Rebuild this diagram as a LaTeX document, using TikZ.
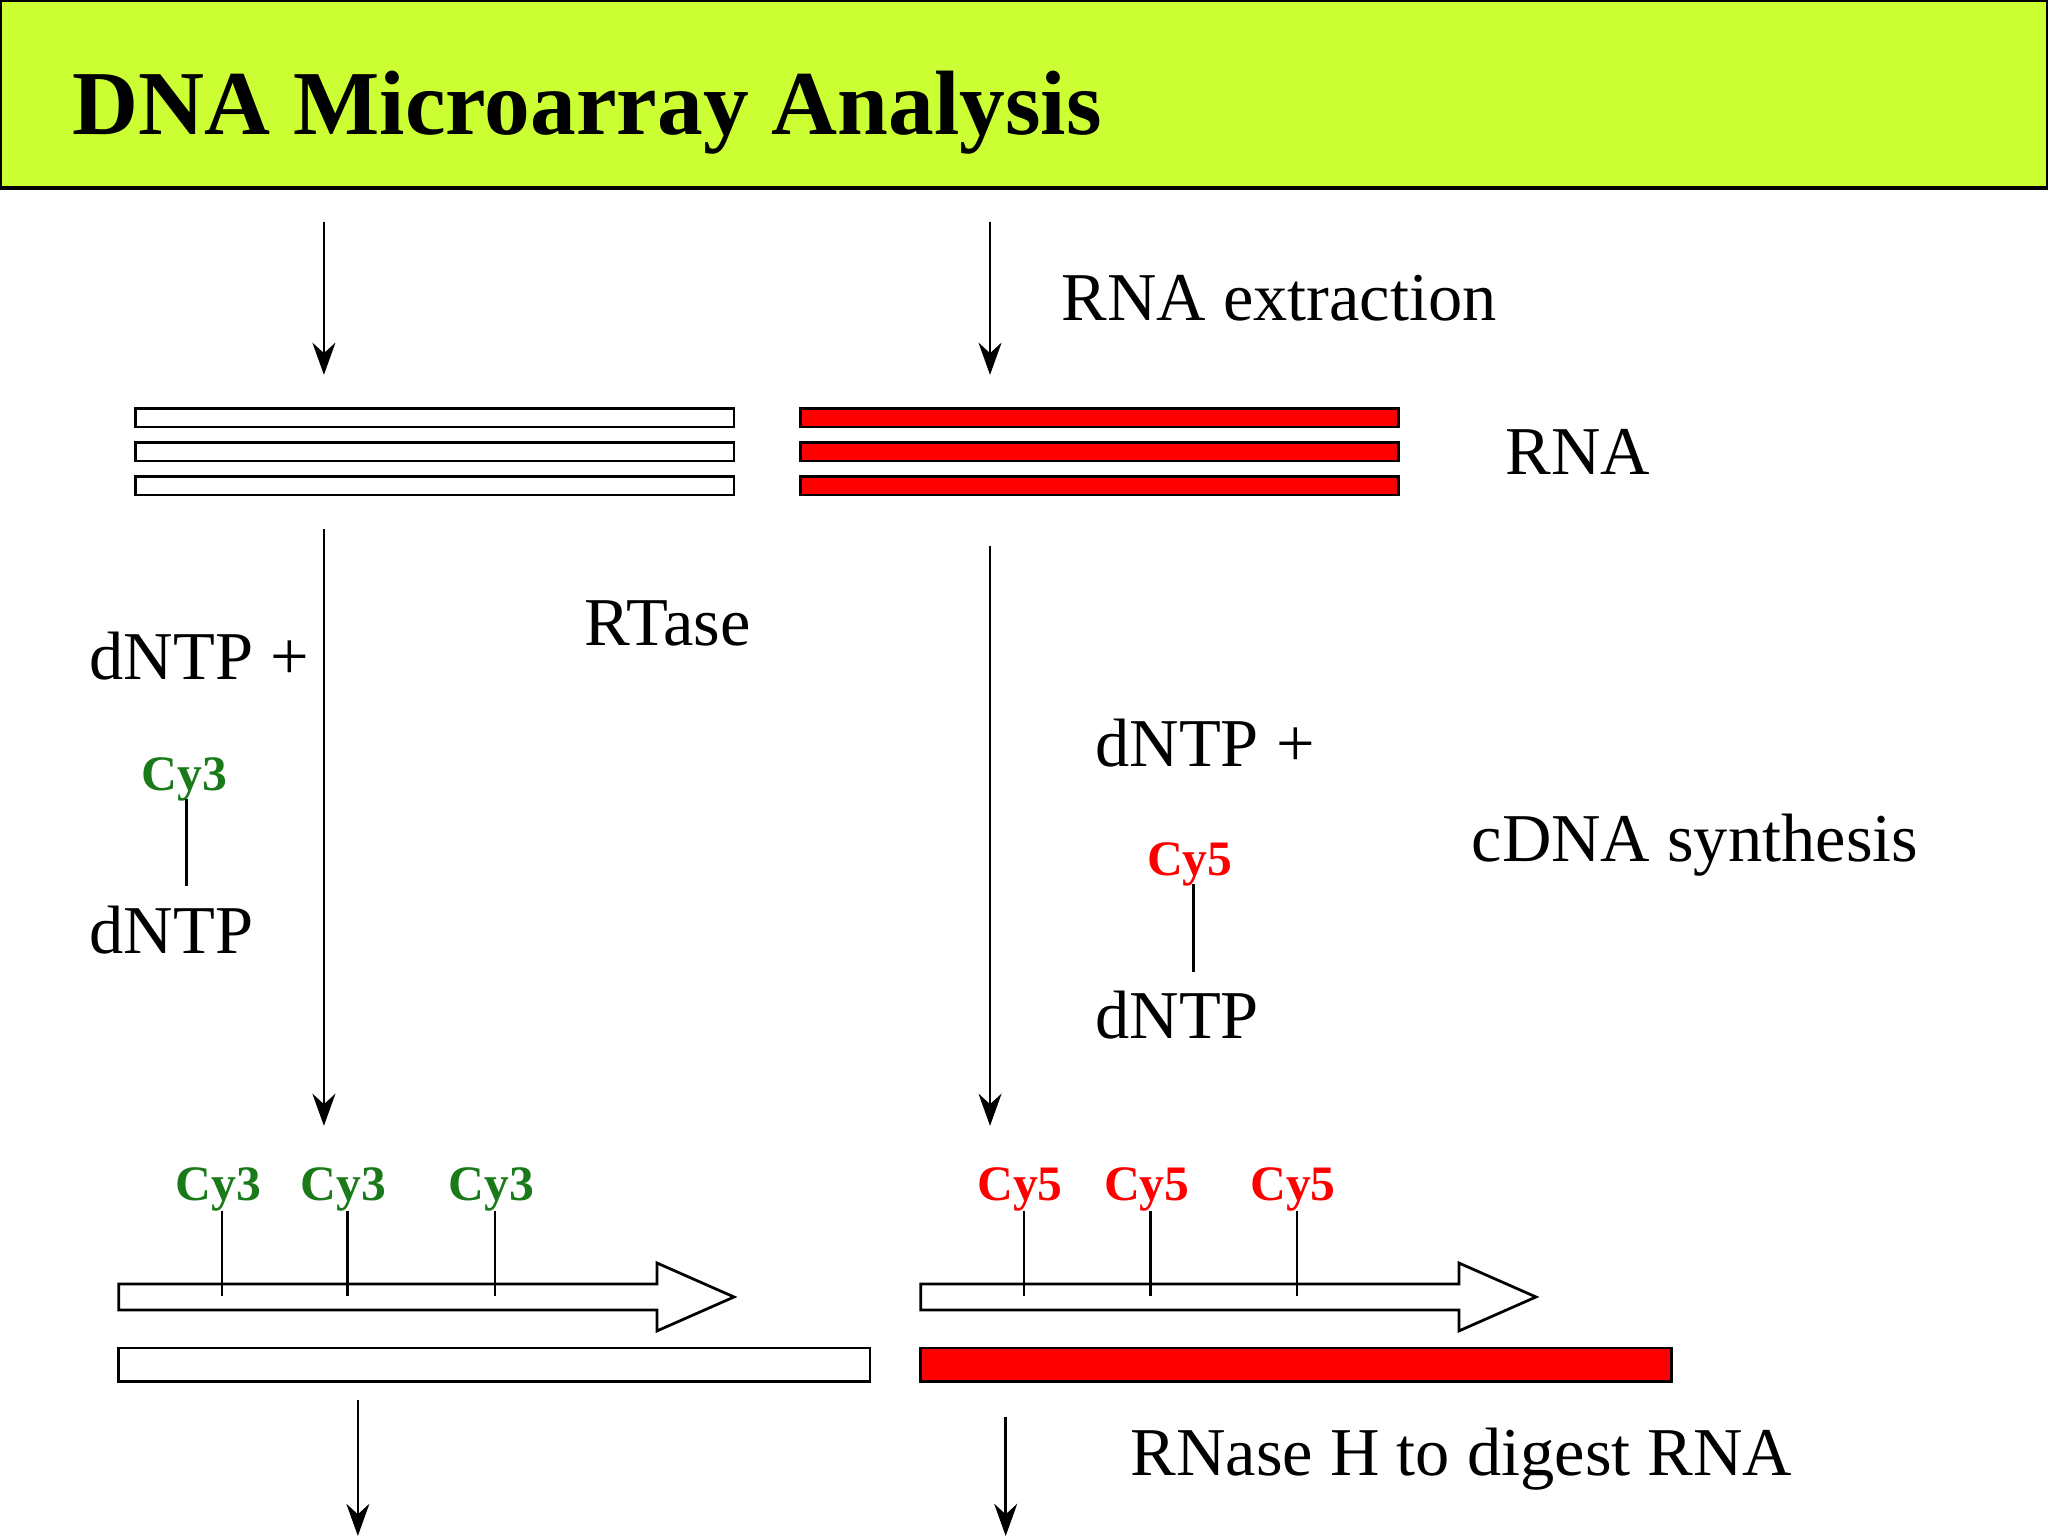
\documentclass[tikz,border=0pt]{standalone}
\usepackage{fontspec}
\setmainfont{Liberation Serif}
\usetikzlibrary{arrows.meta}
\definecolor{lime}{HTML}{CCFF33}
\definecolor{cygreen}{HTML}{1A7A1A}
\begin{document}
\begin{tikzpicture}[x=0.01cm,y=-0.01cm,
  txt/.style={font=\fontsize{14.9pt}{17pt}\selectfont,anchor=west,inner sep=0},
  cy3/.style={font=\bfseries\fontsize{10.8pt}{13pt}\selectfont,text=cygreen,inner sep=0},
  cy5/.style={font=\bfseries\fontsize{10.8pt}{13pt}\selectfont,text=red,inner sep=0},
  arr/.style={-{Stealth[length=7pt,width=5pt]},line width=0.6pt},
  bar/.style={draw=black,line width=0.6pt},
  ln/.style={line width=0.6pt}]
\useasboundingbox (0,0) rectangle (1568,1176);
\draw[fill=lime,line width=0.8pt] (0,0) rectangle (1568,144);
\node[anchor=base west,inner sep=0,font=\bfseries\fontsize{19.9pt}{23pt}\selectfont] (title) at (55,103) {DNA Microarray Analysis};
% top arrows
\coordinate (a1) at (248,170); \coordinate (a1e) at (248,287);
\coordinate (a2) at (758,170); \coordinate (a2e) at (758,287);
\draw[arr] (a1) -- (a1e); \draw[arr] (a2) -- (a2e);
\node[txt] (ext) at (812,228) {RNA extraction};
% RNA bars
\foreach \y in {313,339,365}{
  \draw[bar,fill=white] (104,\y) rectangle (562,\y+14);
  \draw[bar,fill=red] (613,\y) rectangle (1071,\y+14);
}
\node[txt] (rna) at (1152,346) {RNA};
% middle arrows
\coordinate (b1) at (248,405); \coordinate (b1e) at (248,862);
\coordinate (b2) at (758,418); \coordinate (b2e) at (758,862);
\draw[arr] (b1) -- (b1e); \draw[arr] (b2) -- (b2e);
\node[txt] (rt) at (447,477) {RTase};
\node[txt] (d1) at (68,502) {dNTP +};
\node[cy3] (c3) at (141,597) {Cy3};
\draw[ln] (143,612) -- (143,678);
\node[txt] (d2) at (68,712) {dNTP};
\node[txt] (d3) at (838,569) {dNTP +};
\node[cy5] (c5) at (911,662) {Cy5};
\draw[ln] (914,677) -- (914,744);
\node[txt] (d4) at (838,777) {dNTP};
\node[txt] (cs) at (1126,647) {cDNA synthesis};
% bottom left
\draw[bar,fill=white] (91,983) -- (503,983) -- (503,967) -- (562,993) -- (503,1019) -- (503,1003) -- (91,1003) -- cycle;
\foreach \cx/\lx in {167/170,263/266,376/379}{
  \node[cy3] at (\cx,911) {Cy3};
  \draw[ln] (\lx,927) -- (\lx,992);
}
\draw[bar,fill=white] (91,1032) rectangle (666,1058);
% bottom right
\draw[bar,fill=white] (705,983) -- (1117,983) -- (1117,967) -- (1176,993) -- (1117,1019) -- (1117,1003) -- (705,1003) -- cycle;
\foreach \cx/\lx in {781/784,878/881,990/993}{
  \node[cy5] at (\cx,911) {Cy5};
  \draw[ln] (\lx,927) -- (\lx,992);
}
\draw[bar,fill=red] (705,1032) rectangle (1280,1058);
% bottom arrows
\coordinate (c1) at (274,1072); \coordinate (c1e) at (274,1176);
\coordinate (c2) at (770,1085); \coordinate (c2e) at (770,1176);
\draw[arr] (c1) -- (c1e); \draw[arr] (c2) -- (c2e);
\node[txt] (rh) at (865,1117) {RNase H to digest RNA};
\end{tikzpicture}
\end{document}
